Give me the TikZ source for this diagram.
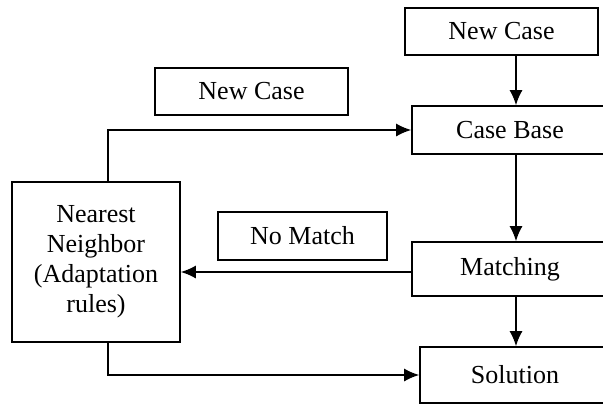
\documentclass[tikz,border=0pt]{standalone}
\usepackage{fontspec}
\setmainfont{Liberation Serif}
\usepackage{tikz}
\usetikzlibrary{arrows.meta}

\begin{document}
\begin{tikzpicture}[x=1pt,y=-1pt,line width=1.6pt,
        box/.style={draw,inner sep=0pt,font=\fontsize{26}{30}\selectfont},
        arr/.style={-{Latex[length=15pt,width=13pt]}}]
        \clip (0,0) rectangle (603,405);
        % steps on the right
        \node[box,minimum width=193,minimum height=47] (newcase) at (501.5,31.5) {New Case};
        \node[box,minimum width=196,minimum height=48] (casebase) at (510,130) {Case Base};
        \node[box,minimum width=196,minimum height=54] (matching) at (510,269) {Matching};
        \node[box,minimum width=190,minimum height=56] (solution) at (515,375) {Solution};
        % adaptation on the left
        \node[box,minimum width=168,minimum height=160,align=center] (nearest) at (96,262) {Nearest\\Neighbor\\(Adaptation\\rules)};
        % labels on the links
        \node[box,minimum width=193,minimum height=47] (newlbl) at (251.5,91.5) {New Case};
        \node[box,minimum width=169,minimum height=48] (nomatch) at (302.5,236) {No Match};
        \coordinate (spine) at (516,0);
        \coordinate (loop) at (108,0);
        \coordinate (nomatchrow) at (0,272);
        \draw[arr] (newcase.south -| spine) -- (casebase.north -| spine);
        \draw[arr] (casebase.south -| spine) -- (matching.north -| spine);
        \draw[arr] (matching.south -| spine) -- (solution.north -| spine);
        \draw[arr] (matching.west |- nomatchrow) -- (nearest.east |- nomatchrow);
        \draw[arr] (nearest.north -| loop) |- (casebase.west);
        \draw[arr] (nearest.south -| loop) |- (solution.west);
    \end{tikzpicture}
\end{document}
